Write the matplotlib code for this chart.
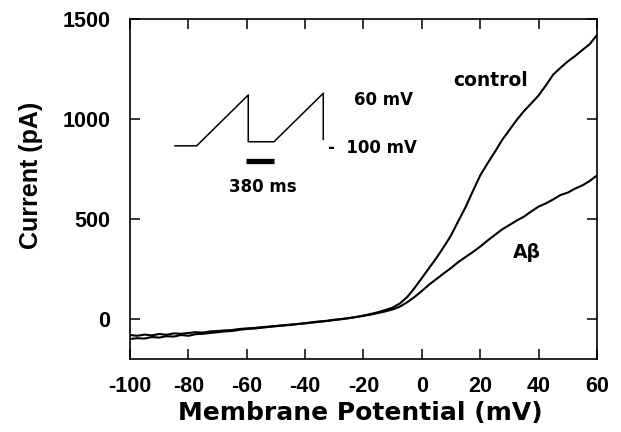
import matplotlib
matplotlib.use('Agg')
import matplotlib.pyplot as plt
import numpy as np

plt.rcParams['font.family'] = ['Liberation Sans', 'DejaVu Sans']
plt.rcParams['font.weight'] = 'bold'
plt.rcParams['axes.unicode_minus'] = False

# membrane potential (mV), 2.5 mV steps
voltage = np.arange(-100, 60.1, 2.5)

# current (pA)
control = [-100, -96, -98, -90, -93, -86, -88, -80, -84, -76, -74, -70, -66,
           -62, -60, -54, -50, -48, -44, -40, -36, -33, -30, -25, -22, -18,
           -14, -10, -5, -1, 4, 10, 17, 25, 34, 45, 57, 78, 110, 155, 205,
           255, 305, 360, 418, 490, 560, 640, 718, 778, 835, 895, 945, 995,
           1040, 1078, 1118, 1168, 1222, 1256, 1288, 1315, 1345, 1374, 1420]
abeta = [-80, -84, -78, -82, -75, -79, -72, -74, -70, -66, -68, -62, -60,
         -57, -55, -50, -47, -45, -41, -38, -35, -31, -28, -25, -21, -16,
         -12, -9, -4, 0, 5, 10, 16, 22, 30, 38, 48, 62, 84, 110, 140, 172,
         200, 228, 255, 285, 310, 335, 362, 392, 420, 448, 470, 492, 512,
         538, 562, 578, 598, 620, 632, 652, 668, 690, 718]

xticks = [-100, -80, -60, -40, -20, 0, 20, 40, 60]
yticks = [0, 500, 1000, 1500]

fig = plt.figure(figsize=(6.21, 4.32), dpi=100)
ax = fig.add_axes([0.2093, 0.169, 0.752, 0.787])

ax.plot(voltage, control, color='black', lw=1.5)
ax.plot(voltage, abeta, color='black', lw=1.5)

ax.set_xlim(-100, 60)
ax.set_ylim(-200, 1500)
ax.set_xticks(xticks)
ax.set_yticks(yticks)
ax.tick_params(direction='in', length=7.5, width=1.1, top=True, right=True,
               labelsize=15.5)
ax.tick_params(axis='x', pad=12)
ax.tick_params(axis='y', pad=14)
for s in ax.spines.values():
    s.set_linewidth(1.2)

# axis labels
fig.text(0.5805, 0.044, 'Membrane Potential (mV)', ha='center', va='center',
         fontsize=18, fontweight='bold', family='DejaVu Sans')
fig.text(0.05, 0.595, 'Current (pA)', ha='center', va='center',
         rotation=90, fontsize=18, fontweight='bold')

# voltage protocol inset (axes fraction)
tr = ax.transAxes
ax.plot([0.0964, 0.1428, 0.2533, 0.2533, 0.3084, 0.4139, 0.4139],
        [0.627, 0.627, 0.7765, 0.639, 0.639, 0.7815, 0.646],
        color='black', lw=1.1, transform=tr)
ax.plot([0.2484, 0.3084], [0.5824, 0.5824], color='black', lw=3.8,
        solid_capstyle='butt', transform=tr)
ax.text(0.5424, 0.7618, '60 mV', transform=tr, ha='center', va='center',
        fontsize=12, fontweight='bold', family='DejaVu Sans')
ax.text(0.5182, 0.6197, '-  100 mV', transform=tr, ha='center', va='center',
        fontsize=12, fontweight='bold', family='DejaVu Sans')
ax.text(0.2848, 0.5059, '380 ms', transform=tr, ha='center', va='center',
        fontsize=12, fontweight='bold', family='DejaVu Sans')

# trace labels
ax.text(0.7724, 0.8206, 'control', transform=tr, ha='center', va='center',
        fontsize=13.5, fontweight='bold', family='DejaVu Sans')
ax.text(0.8501, 0.3118, 'Aβ', transform=tr, ha='center', va='center',
        fontsize=13.5, fontweight='bold', family='DejaVu Sans')

fig.savefig('out.png', dpi=100)
